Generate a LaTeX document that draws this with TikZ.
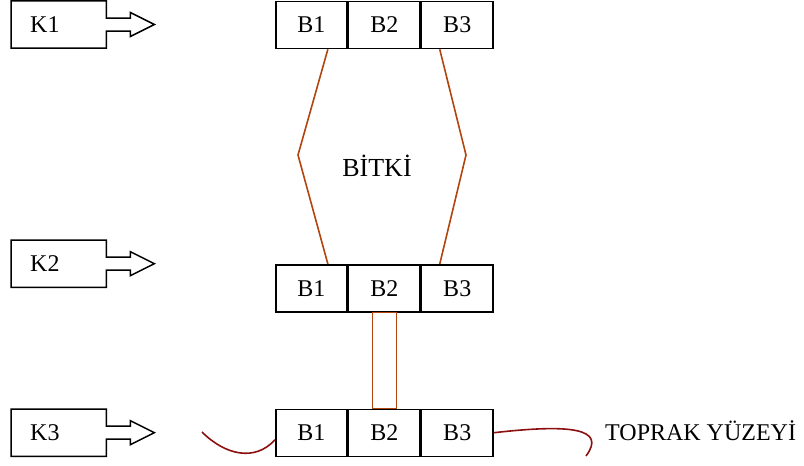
\documentclass[tikz,border=0pt]{standalone}
\usepackage{fontspec}
\setmainfont{Liberation Serif}
\usetikzlibrary{calc}
\definecolor{plantline}{RGB}{178,68,14}
\definecolor{soilline}{RGB}{140,16,16}
\tikzset{
  kbox/.style={rectangle, anchor=north west, minimum height=47pt,
    text width=57pt, inner xsep=19pt, inner ysep=0pt, align=left},
  bbox/.style={rectangle, draw=black, line width=1.5pt, minimum width=71.4pt,
    minimum height=47pt, inner sep=0pt},
  kline/.style={draw=black, line width=1.5pt, line join=miter},
  plant/.style={draw=plantline, line width=1.6pt},
  soil/.style={draw=soilline, line width=1.6pt},
  every node/.style={font=\fontsize{24}{28}\selectfont}
}
\begin{document}
\begin{tikzpicture}[x=1pt, y=-1pt]
\useasboundingbox (0,0) rectangle (804,466);

% input boxes on the left
\node[kbox] (K1) at (11,0.8) {K1};
\node[kbox] (K2) at (11,240) {K2};
\node[kbox] (K3) at (11,409) {K3};
\foreach \k in {K1,K2,K3}
  \draw[kline] ([yshift=6.5pt]\k.east) -- (\k.north east) -- (\k.north west)
    -- (\k.south west) -- (\k.south east) -- ([yshift=-6.5pt]\k.east)
    -- ++(24,0) -- ++(0,5.5) -- ++(24,-12) -- ++(-24,-12) -- ++(0,5.5) -- cycle;

% three rows of B cells
\node[bbox, anchor=north west] (T1) at (275,0.8) {B1};
\node[bbox, anchor=west] (T2) at (T1.east) {B2};
\node[bbox, anchor=west] (T3) at (T2.east) {B3};

\node[bbox, anchor=north west] (M1) at (275,264) {B1};
\node[bbox, anchor=west] (M2) at (M1.east) {B2};
\node[bbox, anchor=west] (M3) at (M2.east) {B3};

\node[bbox, anchor=north west] (S1) at (275,408.5) {B1};
\node[bbox, anchor=west] (S2) at (S1.east) {B2};
\node[bbox, anchor=west] (S3) at (S2.east) {B3};

% plant body between the upper rows
\coordinate (hl) at (298,155);
\coordinate (hr) at (466,155);
\draw[plant] ($(T1.south west)!0.725!(T1.south east)$) -- (hl)
  -- ($(M1.north west)!0.725!(M1.north east)$);
\draw[plant] ($(T3.south west)!0.26!(T3.south east)$) -- (hr)
  -- ($(M3.north west)!0.26!(M3.north east)$);
\node[font=\fontsize{26}{30}\selectfont] (bitki) at (377,166) {BİTKİ};

% stem between the lower rows
\draw[plant] ($(M2.south west)!0.34!(M2.south east)$)
  rectangle ($(S2.north west)!0.665!(S2.north east)$);

% ground surface
\coordinate (gl) at (202,432);
\coordinate (gr) at (586,456);
\draw[soil] (gl) .. controls (225,455) and (255,462) .. ([yshift=-7pt]S1.west);
\draw[soil] (S3.east) .. controls (570,424) and (607,428) .. (gr);
\node[anchor=west, inner sep=0pt] (toprak) at (605,431) {TOPRAK YÜZEYİ};
\end{tikzpicture}
\end{document}
